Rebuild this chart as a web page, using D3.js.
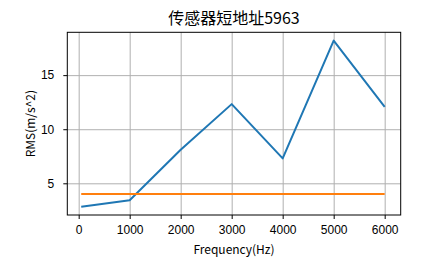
<!DOCTYPE html>
<html>
<head>
<meta charset="utf-8">
<script src="https://cdn.jsdelivr.net/npm/d3@7"></script>
<style>
  html, body { margin: 0; padding: 0; background: #fff; }
  svg { display: block; font-family: "Noto Sans CJK SC", "DejaVu Sans", sans-serif; }
  .grid line { stroke: #b0b0b0; stroke-width: 1; }
  .grid path { display: none; }
  .axis text { font-size: 12px; fill: #000; }
  .axis path { display: none; }
  .axis line { stroke: #000; stroke-width: 1; }
</style>
</head>
<body>
<svg id="chart" width="444" height="269"></svg>
<script>
/* =======================
   DATA
======================= */
const title = "传感器短地址5963";
const xLabel = "Frequency(Hz)";
const yLabel = "RMS(m/s^2)";

const freqs = [50, 1000, 2000, 3000, 4000, 5000, 6000];
const rmsValues = [2.84, 3.43, 8.1, 12.32, 7.3, 18.19, 12.07];
const thresholdValues = [4.0, 4.0, 4.0, 4.0, 4.0, 4.0, 4.0];

const xTicks = [0, 1000, 2000, 3000, 4000, 5000, 6000];
const yTicks = [5, 10, 15];

/* =======================
   CHART
======================= */
const margin = { top: 32.3, right: 43.3, bottom: 54, left: 67.3 };
const width = 444 - margin.left - margin.right;
const height = 269 - margin.top - margin.bottom;

const svg = d3.select("#chart");
const g = svg.append("g").attr("transform", `translate(${margin.left},${margin.top})`);

const xScale = d3.scaleLinear().domain([-223, 6314]).range([0, width]);
const yScale = d3.scaleLinear().domain([2.07, 18.96]).range([height, 0]);

// Grid
g.append("g").attr("class", "grid")
    .attr("transform", `translate(0,${height})`)
    .call(d3.axisBottom(xScale).tickValues(xTicks).tickSize(-height).tickFormat(""));
g.append("g").attr("class", "grid")
    .call(d3.axisLeft(yScale).tickValues(yTicks).tickSize(-width).tickFormat(""));

// Axes
g.append("g").attr("class", "axis")
    .attr("transform", `translate(0,${height})`)
    .call(d3.axisBottom(xScale).tickValues(xTicks).tickSize(4).tickPadding(6).tickFormat(d3.format("d")));
g.append("g").attr("class", "axis")
    .call(d3.axisLeft(yScale).tickValues(yTicks).tickSize(4).tickPadding(9).tickFormat(d3.format("d")));

// Lines
const line = d3.line().x(d => xScale(d[0])).y(d => yScale(d[1]));

g.append("path")
    .datum(freqs.map((f, i) => [f, rmsValues[i]]))
    .attr("d", line)
    .attr("fill", "none")
    .attr("stroke", "#1f77b4")
    .attr("stroke-width", 2)
    .attr("stroke-linejoin", "round");

g.append("path")
    .datum(freqs.map((f, i) => [f, thresholdValues[i]]))
    .attr("d", line)
    .attr("fill", "none")
    .attr("stroke", "#ff7f0e")
    .attr("stroke-width", 2);

// Frame
g.append("rect")
    .attr("width", width).attr("height", height)
    .attr("fill", "none").attr("stroke", "#000").attr("stroke-width", 1);

// Title and labels
svg.append("text")
    .attr("x", margin.left + width / 2).attr("y", 24)
    .attr("text-anchor", "middle")
    .style("font-size", "16px")
    .text(title);

svg.append("text")
    .attr("x", margin.left + width / 2).attr("y", 254)
    .attr("text-anchor", "middle")
    .style("font-size", "12px")
    .text(xLabel);

svg.append("text")
    .attr("transform", `translate(35,${margin.top + height / 2}) rotate(-90)`)
    .attr("text-anchor", "middle")
    .style("font-size", "12px")
    .text(yLabel);
</script>
</body>
</html>
